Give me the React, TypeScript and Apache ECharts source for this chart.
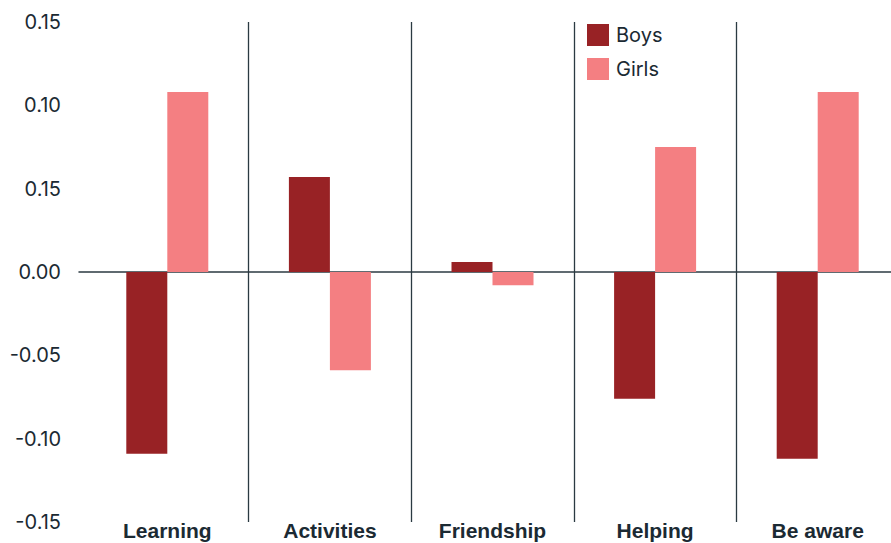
import React, { useEffect, useRef } from "react";
import * as echarts from "echarts";

const categories = ["Learning", "Activities", "Friendship", "Helping", "Be aware"];
const boys = [-0.109, 0.057, 0.006, -0.076, -0.112];
const girls = [0.108, -0.059, -0.008, 0.075, 0.108];
// tick labels from bottom (-0.15) to top (0.15), as printed in the source
const yTickLabels = ["-0.15", "-0.10", "-0.05", "0.00", "0.15", "0.10", "0.15"];

const TEXT = "#1b2a33";
const LINE = "#2b3a42";

export default function App() {
  const ref = useRef<HTMLDivElement>(null);
  useEffect(() => {
    if (!ref.current) return;
    const chart = echarts.init(ref.current, null, { renderer: "svg" });
    chart.setOption({
      animation: false,
      backgroundColor: "#ffffff",
      color: ["#982225", "#f47f82"],
      legend: {
        orient: "vertical",
        left: 587,
        top: 24,
        padding: 0,
        itemWidth: 22,
        itemHeight: 22,
        itemGap: 12,
        icon: "rect",
        textStyle: { fontFamily: "Inter", fontSize: 20, color: TEXT, padding: [0, 0, 0, 2] },
        data: ["Boys", "Girls"],
      },
      grid: [
        { left: 86, width: 813, top: 22, height: 500, outerBoundsMode: "none", containLabel: false },
        { left: 79, right: 0, top: 22, height: 500, outerBoundsMode: "none", containLabel: false },
      ],
      xAxis: [
        {
          type: "category",
          gridIndex: 0,
          data: categories,
          axisLine: { show: false, onZero: false },
          axisTick: { show: false },
          axisLabel: {
            margin: -3,
            verticalAlign: "top",
            lineHeight: 22,
            fontFamily: "Liberation Sans",
            fontWeight: "bold",
            fontSize: 21,
            color: TEXT,
          },
          splitLine: {
            show: true,
            showMinLine: false,
            showMaxLine: false,
            lineStyle: { color: LINE, width: 1.3 },
          },
        },
        {
          type: "category",
          gridIndex: 1,
          data: categories,
          axisLine: { show: true, onZero: true, lineStyle: { color: LINE, width: 1.5 } },
          axisTick: { show: false },
          axisLabel: { show: false },
          splitLine: { show: false },
        },
      ],
      yAxis: [
        {
          type: "value",
          gridIndex: 0,
          min: -0.15,
          max: 0.15,
          interval: 0.05,
          axisLine: { show: false },
          axisTick: { show: false },
          splitLine: { show: false },
          axisLabel: {
            margin: 25,
            fontFamily: "Inter",
            fontSize: 20,
            color: TEXT,
            padding: [8, 0, 0, 0],
            formatter: (_v: number, i: number) => yTickLabels[i] ?? "",
          },
        },
        {
          type: "value",
          gridIndex: 1,
          min: -0.15,
          max: 0.15,
          interval: 0.05,
          show: false,
        },
      ],
      series: [
        { name: "Boys", type: "bar", data: boys, barWidth: 41, barGap: "0%", xAxisIndex: 0, yAxisIndex: 0, z: 1 },
        { name: "Girls", type: "bar", data: girls, barWidth: 41, barGap: "0%", xAxisIndex: 0, yAxisIndex: 0, z: 1 },
      ],
    });
    return () => chart.dispose();
  }, []);
  return (
    <div
      ref={ref}
      style={{ position: "absolute", left: 0, top: 0, width: 891, height: 543 }}
    />
  );
}
